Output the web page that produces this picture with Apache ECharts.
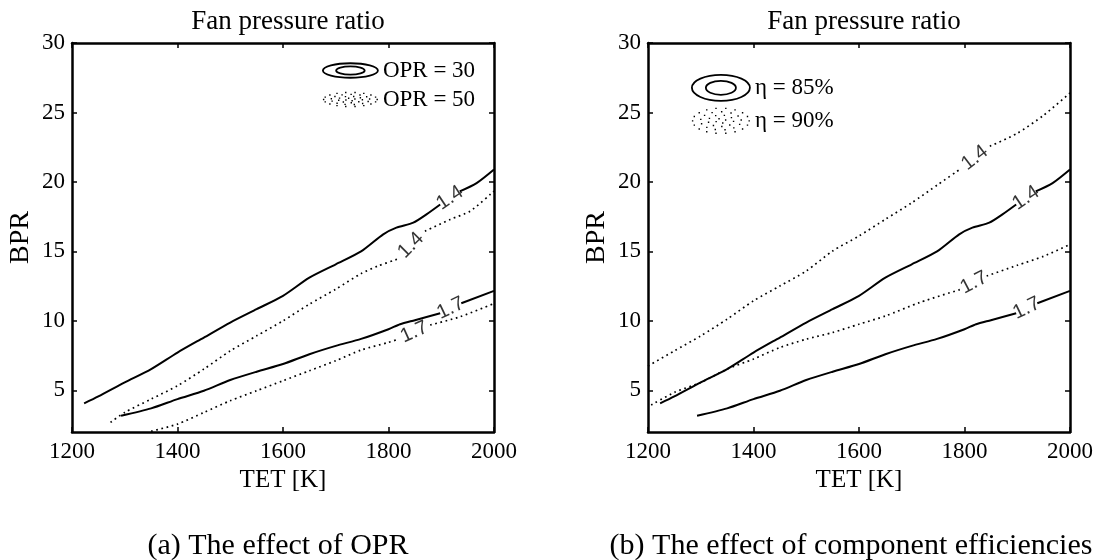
<!DOCTYPE html>
<html>
<head>
<meta charset="utf-8">
<script src="https://cdn.jsdelivr.net/npm/echarts@6/dist/echarts.min.js"></script>
<style>
  html, body { margin: 0; padding: 0; background: #fff; }
  #chart { width: 1097px; height: 560px; }
</style>
</head>
<body>
<div id="chart"></div>
<script>
// Fan pressure ratio contours: BPR against turbine entry temperature.
// Each contour is stored as two pieces; the level label sits in the gap.

const tetRange = [1200, 2000];
const bprRange = [2, 30];
const bprTicks = [5, 10, 15, 20, 25, 30];

// Baseline case (OPR = 30, eta = 85%)
const base14a = [[1223,4.06],[1250,4.56],[1300,5.57],[1350,6.53],[1400,7.72],[1450,8.8],[1500,9.88],[1550,10.84],[1600,11.8],[1650,13.11],[1700,14.07],[1748,15.0],[1790,16.23],[1815,16.71],[1847,17.07],[1872,17.67],[1898,18.38]];
const base14b = [[1935,19.32],[1967,19.92],[2000,20.9]];
const base17a = [[1293,3.17],[1350,3.7],[1400,4.37],[1450,4.97],[1500,5.74],[1550,6.34],[1600,6.89],[1650,7.6],[1700,8.2],[1748,8.7],[1800,9.4],[1822,9.76],[1850,10.05],[1898,10.55]];
const base17b = [[1938,11.27],[2000,12.16]];

// OPR = 50
const opr50_14a = [[1273,2.69],[1300,3.41],[1350,4.37],[1400,5.33],[1450,6.53],[1500,7.84],[1550,8.92],[1600,10.0],[1650,11.2],[1700,12.28],[1748,13.4],[1780,13.95],[1816,14.43]];
const opr50_14b = [[1869,16.45],[1917,17.3],[1955,17.9],[2000,19.34]];
const opr50_17a = [[1350,2.05],[1400,2.57],[1450,3.41],[1500,4.25],[1550,4.97],[1600,5.69],[1650,6.41],[1700,7.13],[1748,7.9],[1800,8.45],[1819,8.69]];
const opr50_17b = [[1879,9.7],[1936,10.3],[2000,11.25]];

// eta = 90%
const eta90_14a = [[1200,6.75],[1250,7.84],[1300,8.92],[1350,10.12],[1400,11.44],[1450,12.51],[1500,13.59],[1550,15.03],[1600,16.11],[1650,17.31],[1700,18.5],[1750,19.82],[1791,20.9]];
const eta90_14b = [[1848,22.57],[1900,23.5],[1950,24.8],[2000,26.4]];
const eta90_17a = [[1206,3.94],[1250,4.85],[1300,5.57],[1350,6.53],[1400,7.25],[1450,8.08],[1500,8.68],[1550,9.16],[1600,9.76],[1650,10.35],[1715,11.32],[1794,12.28]];
const eta90_17b = [[1842,13.23],[1900,14.0],[1950,14.65],[2000,15.51]];

const panelTitles = ['Fan pressure ratio', 'Fan pressure ratio'];
const captions = ['(a) The effect of OPR', '(b) The effect of component efficiencies'];
const legendNames = [['OPR = 30', 'OPR = 50'], ['η = 85%', 'η = 90%']];

const curves = [
  { grid: 0, name: legendNames[0][0], level: '1.4', segs: [base14a, base14b], dotted: false },
  { grid: 0, name: legendNames[0][0], level: '1.7', segs: [base17a, base17b], dotted: false },
  { grid: 0, name: legendNames[0][1], level: '1.4', segs: [opr50_14a, opr50_14b], dotted: true },
  { grid: 0, name: legendNames[0][1], level: '1.7', segs: [opr50_17a, opr50_17b], dotted: true },
  { grid: 1, name: legendNames[1][0], level: '1.4', segs: [base14a, base14b], dotted: false },
  { grid: 1, name: legendNames[1][0], level: '1.7', segs: [base17a, base17b], dotted: false },
  { grid: 1, name: legendNames[1][1], level: '1.4', segs: [eta90_14a, eta90_14b], dotted: true },
  { grid: 1, name: legendNames[1][1], level: '1.7', segs: [eta90_17a, eta90_17b], dotted: true }
];

// ---------- styling ----------
const SERIF = 'Liberation Serif';
const SANS = 'Liberation Sans';
const solidLine = { color: '#000', width: 2, type: 'solid' };
const dottedLine = { color: '#000', width: 1.7, type: [1.7, 3.6], cap: 'butt' };

const grids = [
  { left: 72, top: 43, width: 422, height: 389 },
  { left: 648, top: 43, width: 422, height: 389 }
];

// Legend glyphs: nested ellipses (solid) and a stippled ellipse (dotted)
function ellipsePath(cx, cy, rx, ry) {
  return `M${cx - rx},${cy} A${rx},${ry} 0 1 1 ${cx + rx},${cy} A${rx},${ry} 0 1 1 ${cx - rx},${cy} Z `;
}
function ringIcon(w, h, inner) {
  return 'path://' + ellipsePath(w / 2, h / 2, w / 2 - 1, h / 2 - 1) +
    ellipsePath(w / 2, h / 2, (w / 2) * inner, (h / 2) * inner);
}
function stippleIcon(w, h) {
  let p = '';
  const d = 1.4;
  const rings = [[1, 18], [0.72, 13], [0.45, 9], [0.18, 4]];
  rings.forEach(([s, n], k) => {
    for (let i = 0; i < n; i++) {
      const t = (i / n) * Math.PI * 2 + k * 0.4;
      const x = w / 2 + Math.cos(t) * (w / 2 - 1) * s;
      const y = h / 2 + Math.sin(t) * (h / 2 - 1) * s;
      p += `M${x.toFixed(2)},${y.toFixed(2)} h${d} v${d} h${-d} Z `;
    }
  });
  return 'path://' + p;
}

function makeLegend(names, left, top, w, h, gap) {
  return {
    orient: 'vertical',
    left: left, top: top,
    itemWidth: w, itemHeight: h, itemGap: gap,
    textStyle: { fontFamily: SERIF, fontSize: 23, color: '#000' },
    padding: 0,
    data: [
      { name: names[0], icon: ringIcon(w, h, 0.5),
        itemStyle: { color: 'rgba(0,0,0,0)', borderColor: '#000', borderWidth: 1.8 } },
      { name: names[1], icon: stippleIcon(w, h),
        itemStyle: { color: '#000', borderWidth: 0 } }
    ],
    selectedMode: false
  };
}

function xAxes(g) {
  const common = {
    type: 'value', gridIndex: g, min: tetRange[0], max: tetRange[1], interval: 200,
    axisLine: { show: true, onZero: false, lineStyle: { color: '#000', width: 2.5 } },
    axisTick: { show: true, inside: true, length: 5, lineStyle: { color: '#000', width: 1.5 } },
    splitLine: { show: false }
  };
  return [
    Object.assign({}, common, {
      position: 'bottom',
      name: 'TET [K]', nameLocation: 'middle', nameGap: 30,
      nameTextStyle: { fontFamily: SERIF, fontSize: 25, color: '#000' },
      axisLabel: { show: true, margin: 8, fontFamily: SERIF, fontSize: 23, color: '#000',
                   formatter: v => String(v) }
    }),
    Object.assign({}, common, { position: 'top', axisLabel: { show: false } })
  ];
}

function yAxes(g) {
  const common = {
    type: 'value', gridIndex: g, min: bprRange[0], max: bprRange[1],
    axisLine: { show: true, onZero: false, lineStyle: { color: '#000', width: 2.5 } },
    axisTick: { show: true, inside: true, length: 5, customValues: bprTicks,
                lineStyle: { color: '#000', width: 1.5 } },
    splitLine: { show: false }
  };
  return [
    Object.assign({}, common, {
      position: 'left',
      name: 'BPR', nameLocation: 'middle', nameGap: 37,
      nameTextStyle: { fontFamily: SERIF, fontSize: 28, color: '#000' },
      axisLabel: { show: true, margin: 7, fontFamily: SERIF, fontSize: 23, color: '#000',
                   customValues: bprTicks }
    }),
    Object.assign({}, common, { position: 'right', axisLabel: { show: false } })
  ];
}

const lineSeries = [];
curves.forEach(c => {
  c.segs.forEach(seg => {
    lineSeries.push({
      type: 'line', name: c.name,
      xAxisIndex: c.grid * 2, yAxisIndex: c.grid * 2,
      data: seg, showSymbol: false, symbol: 'none', smooth: 0.25,
      lineStyle: c.dotted ? dottedLine : solidLine,
      itemStyle: { color: '#000' },
      silent: true, z: 3
    });
  });
});

const titleText = { fontFamily: SERIF, fontSize: 27, fontWeight: 'normal', color: '#000' };
const captionText = { fontFamily: SERIF, fontSize: 30, fontWeight: 'normal', color: '#000' };

const option = {
  animation: false,
  backgroundColor: '#fff',
  textStyle: { fontFamily: SERIF, color: '#000' },
  title: [
    { text: panelTitles[0], left: 283, top: 3, textAlign: 'center', textStyle: titleText },
    { text: panelTitles[1], left: 859, top: 3, textAlign: 'center', textStyle: titleText },
    { text: captions[0], left: 273, top: 526, textAlign: 'center', textStyle: captionText },
    { text: captions[1], left: 846, top: 526, textAlign: 'center', textStyle: captionText }
  ],
  legend: [
    makeLegend(legendNames[0], 322, 59, 55, 16, 6),
    makeLegend(legendNames[1], 691, 74, 58, 27, 6)
  ],
  grid: grids,
  xAxis: [...xAxes(0), ...xAxes(1)],
  yAxis: [...yAxes(0), ...yAxes(1)],
  series: lineSeries
};

const chart = echarts.init(document.getElementById('chart'), null, { renderer: 'canvas' });
chart.setOption(option);

// Contour level labels: centred in each gap, turned along the local slope
const labelSeries = curves.map(c => {
  const a = c.segs[0][c.segs[0].length - 1];
  const b = c.segs[1][0];
  const pa = chart.convertToPixel({ gridIndex: c.grid }, a);
  const pb = chart.convertToPixel({ gridIndex: c.grid }, b);
  const angle = Math.atan2(pa[1] - pb[1], pb[0] - pa[0]) * 180 / Math.PI;
  return {
    type: 'scatter', name: c.name + ' ' + c.level,
    xAxisIndex: c.grid * 2, yAxisIndex: c.grid * 2,
    data: [[(a[0] + b[0]) / 2, (a[1] + b[1]) / 2]],
    symbolSize: 1, itemStyle: { color: 'rgba(0,0,0,0)' },
    label: { show: true, position: 'inside', formatter: c.level, rotate: angle,
             fontFamily: SANS, fontSize: 20, color: '#000' },
    silent: true, z: 5
  };
});
chart.setOption({ series: [...lineSeries, ...labelSeries] });
</script>
</body>
</html>
